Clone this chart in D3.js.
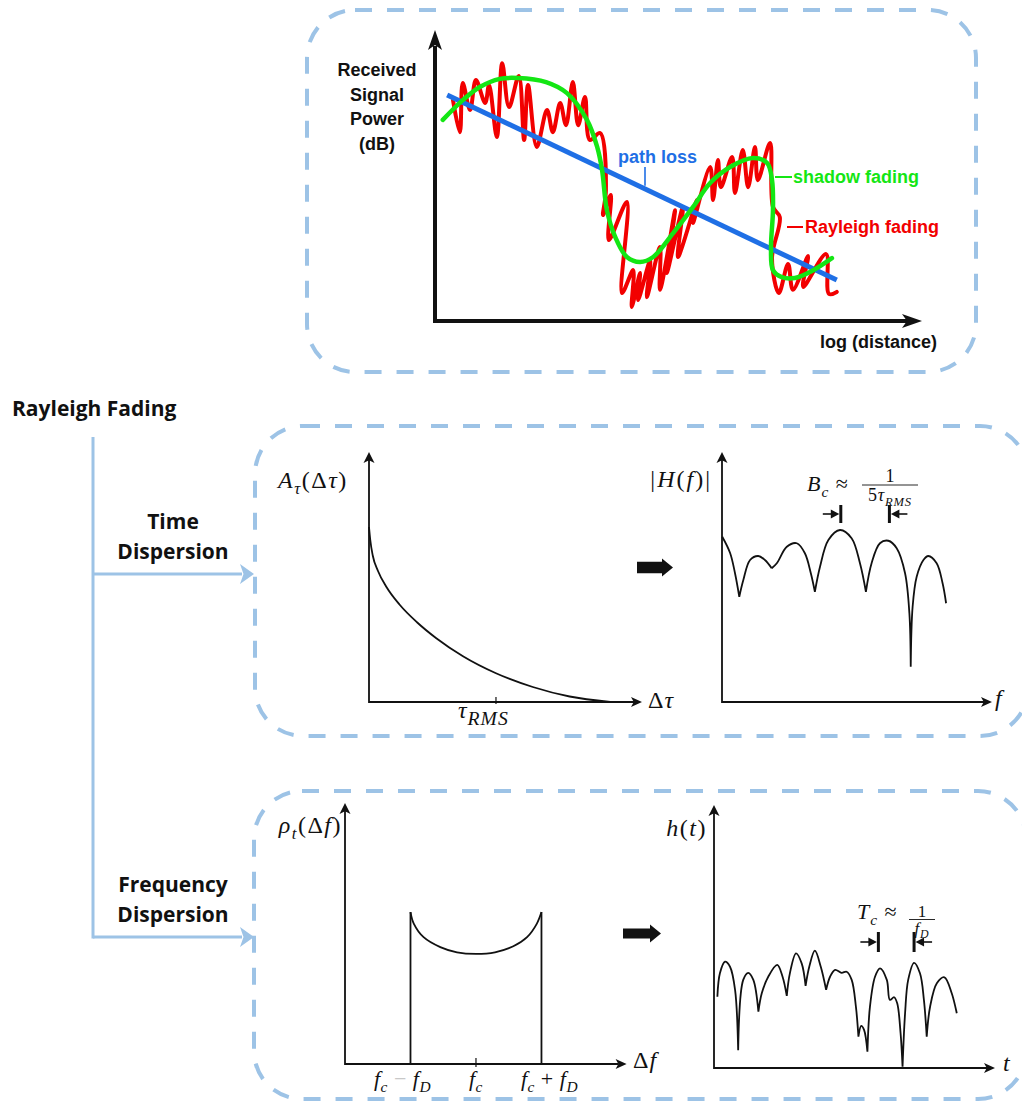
<!DOCTYPE html>
<html>
<head>
<meta charset="utf-8">
<script src="https://cdn.jsdelivr.net/npm/d3@7"></script>
<style>
  body { margin: 0; background: #fff; }
  svg { display: block; }
</style>
</head>
<body>
<svg id="fig" width="1022" height="1101"></svg>
<script>
// ------------------------------------------------------------------
// Data
// ------------------------------------------------------------------

// Large-scale picture: received power (arbitrary dB scale 0..100) vs log distance (0..100)
const pathLoss = [[2.5, 77.7], [82.5, 14.1]];

const shadowFading = [
  [1.6, 69.1], [5.7, 75.9], [9.2, 80.4], [13.3, 83.2], [17.0, 83.5], [22.8, 82.1],
  [27.1, 78.3], [31.2, 69.1], [33.3, 59.8], [34.3, 51.9], [35.3, 38.1], [37.0, 28.9],
  [39.4, 22.0], [42.1, 20.3], [44.8, 22.0], [48.9, 30.2], [53.0, 39.2], [56.5, 47.4],
  [60.6, 52.9], [65.3, 56.0], [68.2, 54.3], [69.2, 48.4], [69.4, 38.1], [69.0, 25.4],
  [69.4, 17.5], [71.2, 15.1], [73.9, 14.8], [77.4, 17.2], [81.5, 21.6]
];

const rayleighFading = [
  [3.7, 75.9], [5.1, 64.9], [5.7, 81.8], [7.2, 72.5], [8.4, 82.8], [10.3, 74.9],
  [11.1, 81.1], [12.7, 63.2], [13.8, 88.6], [15.2, 73.5], [17.2, 84.2], [18.3, 62.2],
  [19.1, 81.1], [20.9, 59.8], [23.0, 72.5], [24.2, 64.9], [25.7, 74.9], [26.9, 67.3],
  [28.3, 82.1], [29.4, 67.3], [30.8, 77.0], [31.8, 62.2], [33.9, 64.6], [35.1, 45.0],
  [34.5, 36.4], [36.1, 43.3], [35.7, 27.8], [39.4, 40.9], [38.4, 9.6], [40.7, 17.5],
  [40.4, 4.8], [42.1, 16.5], [41.7, 7.2], [44.2, 21.0], [43.5, 8.2], [46.2, 25.4],
  [46.2, 10.7], [49.3, 38.1], [47.6, 16.5], [50.9, 39.2], [49.9, 22.0], [53.8, 41.6],
  [53.0, 33.7], [56.5, 52.9], [57.1, 41.6], [58.1, 55.3], [58.7, 46.0], [61.0, 56.4],
  [61.6, 44.0], [63.2, 58.8], [64.3, 46.0], [65.7, 59.8], [66.3, 48.4], [68.8, 61.2],
  [69.4, 39.2], [70.8, 35.7], [69.2, 21.6], [70.6, 9.6], [72.5, 19.6], [73.5, 10.7],
  [76.6, 22.3], [75.6, 11.7], [80.3, 23.0], [80.9, 9.3], [82.5, 10.0]
];

// Power delay profile A_tau(delta tau), delay in units of tau_RMS
const delayProfile = [
  [0, 0.70], [0.01, 0.648], [0.03, 0.585], [0.07, 0.525], [0.14, 0.458], [0.24, 0.39],
  [0.38, 0.318], [0.53, 0.255], [0.74, 0.183], [1.0, 0.115], [1.29, 0.060],
  [1.58, 0.022], [1.90, 0.0]
];
const delayTicks = [1];

// |H(f)|: one arch between consecutive spectral nulls
const freqResponseArches = [
  [[0.01, 6.61], [0.30, 5.96], [0.48, 5.16], [0.64, 4.21]],
  [[0.64, 4.21], [0.79, 4.88], [1.04, 5.68], [1.34, 5.84], [1.59, 5.68], [1.84, 5.35]],
  [[1.84, 5.35], [2.03, 5.55], [2.40, 6.21], [2.77, 6.35], [3.07, 5.95], [3.29, 5.15], [3.44, 4.41]],
  [[3.44, 4.41], [3.63, 5.41], [3.94, 6.48], [4.37, 6.88], [4.80, 6.55], [5.11, 5.55], [5.33, 4.41]],
  [[5.33, 4.41], [5.54, 5.55], [5.85, 6.35], [6.16, 6.45], [6.47, 6.15], [6.78, 5.15], [6.94, 3.55], [6.99, 1.41]],
  [[6.99, 1.41], [7.06, 3.81], [7.21, 5.01], [7.46, 5.68], [7.64, 5.84], [7.95, 5.55], [8.17, 4.75], [8.30, 3.95]]
];
const coherenceBandwidthMarks = [4.4, 6.2];

// Doppler spectrum rho_t(delta f), frequency offset in units of f_D around f_c
const dopplerSpectrum = [
  [-1, 0.582], [-0.95, 0.538], [-0.80, 0.486], [-0.545, 0.448], [-0.29, 0.428], [0, 0.422],
  [0.29, 0.428], [0.57, 0.451], [0.78, 0.486], [0.93, 0.538], [1, 0.582]
];
const dopplerEdges = [-1, 1];
const dopplerTicks = [0];
const dopplerTickLabels = [
  { v: -1, parts: [['f', 'i'], ['c', 'is'], [' \u2212 ', 'g'], ['f', 'i'], ['D', 'is']] },
  { v: 0,  parts: [['f', 'i'], ['c', 'is']] },
  { v: 1,  parts: [['f', 'i'], ['c', 'is'], [' + '], ['f', 'i'], ['D', 'is']] }
];

// |h(t)|: one arch between consecutive deep fades
const impulseArches = [
  [[0.12, 2.71], [0.21, 3.60], [0.39, 4.04], [0.57, 3.85], [0.75, 2.97], [0.86, 0.68]],
  [[0.86, 0.68], [1.04, 3.35], [1.22, 3.62], [1.40, 3.35], [1.58, 2.14]],
  [[1.58, 2.14], [1.70, 2.84], [1.93, 3.47], [2.25, 3.92], [2.44, 3.47], [2.59, 2.74]],
  [[2.59, 2.74], [2.70, 3.60], [2.92, 4.36], [3.12, 3.98], [3.26, 3.12]],
  [[3.26, 3.12], [3.39, 3.85], [3.59, 4.46], [3.80, 3.85], [3.99, 2.97]],
  [[3.99, 2.97], [4.13, 3.47], [4.31, 3.73], [4.54, 3.62], [4.72, 3.66], [4.90, 3.35], [5.05, 2.33], [5.14, 1.19]],
  [[5.14, 1.19], [5.24, 1.60], [5.34, 1.45], [5.46, 0.62]],
  [[5.46, 0.62], [5.55, 2.33], [5.73, 3.47], [5.91, 3.79], [6.15, 3.35], [6.26, 2.59], [6.41, 2.69], [6.52, 2.46], [6.64, 1.32], [6.71, 0.05]],
  [[6.71, 0.05], [6.80, 2.08], [6.91, 3.35], [7.12, 4.00], [7.33, 3.60], [7.47, 2.59], [7.57, 1.19]],
  [[7.57, 1.19], [7.69, 2.33], [7.93, 3.22], [8.20, 3.45], [8.46, 2.84], [8.64, 2.08]]
];
const coherenceTimeMarks = [5.85, 7.12];

const treeTitle = 'Rayleigh Fading';
const branchLabels = [['Time', 'Dispersion'], ['Frequency', 'Dispersion']];
const receivedLabel = ['Received', 'Signal', 'Power', '(dB)'];

// ------------------------------------------------------------------
// Styles and helpers
// ------------------------------------------------------------------
const SERIF = "'Liberation Serif', 'Times New Roman', serif";
const SANS = "'Liberation Sans', Arial, sans-serif";
const UI = "'Open Sans', sans-serif";
const FRAME = '#9DC3E6';
const RED = '#f20000', GREEN = '#14e614', BLUE = '#1f6fe5';
const INK = '#111';

const svg = d3.select('#fig');

function arrowHead(g, x, y, dir, len, half, fill) {
  const pts = dir === 'up'
    ? [[x, y], [x - half, y + len], [x, y + len * 0.75], [x + half, y + len]]
    : [[x, y], [x - len, y - half], [x - len * 0.75, y], [x - len, y + half]];
  g.append('polygon').attr('points', pts.map(p => p.join(',')).join(' ')).attr('fill', fill);
}

// Serif math label built from tspans: style flags i = italic, s = subscript, g = grey
function math(parent, x, y, parts, size, anchor = 'start', ls = 1) {
  const t = parent.append('text')
    .attr('x', x).attr('y', y)
    .attr('font-family', SERIF).attr('font-size', size)
    .attr('text-anchor', anchor).attr('letter-spacing', ls)
    .attr('fill', INK).attr('xml:space', 'preserve');
  let shift = 0;
  parts.forEach(([s, st = '', scale = 0.7, drop]) => {
    const sub = st.includes('s') || scale !== 0.7;
    const target = sub ? (drop !== undefined ? drop : Math.round(size * 0.25)) : 0;
    const ts = t.append('tspan').text(s).attr('dy', target - shift);
    shift = target;
    if (st.includes('i')) ts.attr('font-style', 'italic');
    if (sub) ts.attr('font-size', size * scale);
    if (st.includes('g')) ts.attr('fill', '#c8c8c8');
  });
  return t;
}

function fraction(parent, cx, yBar, halfW, num, den, size) {
  math(parent, cx, yBar - 3, num, size, 'middle', 0);
  parent.append('line').attr('x1', cx - halfW).attr('x2', cx + halfW)
    .attr('y1', yBar).attr('y2', yBar).attr('stroke', INK).attr('stroke-width', 0.9);
  math(parent, cx, yBar + size * 0.88, den, size, 'middle', 0.8);
}

function plotAxes(g, x, y) {
  const [x0, x1] = x.range(), [y0, y1] = y.range();
  g.append('path').attr('d', `M${x0},${y1 + 8}V${y0}H${x1 - 8}`)
    .attr('fill', 'none').attr('stroke', INK).attr('stroke-width', 1.8);
  arrowHead(g, x0, y1, 'up', 11, 5.5, INK);
  arrowHead(g, x1, y0, 'right', 11, 5, INK);
}

function blockArrow(g, x0, x1, cy, bodyHalf, headHalf, headLen) {
  const hx = x1 - headLen;
  const pts = [[x0, cy - bodyHalf], [hx, cy - bodyHalf], [hx, cy - headHalf], [x1, cy],
               [hx, cy + headHalf], [hx, cy + bodyHalf], [x0, cy + bodyHalf]];
  g.append('polygon').attr('points', pts.map(p => p.join(',')).join(' ')).attr('fill', INK);
}

// |<-  ->| markers: bars at xa and xb with arrows pointing inward from outside
function spanMarks(g, xa, xb, cy, half) {
  [[xa, -1], [xb, 1]].forEach(([x, side]) => {
    g.append('line').attr('x1', x).attr('x2', x).attr('y1', cy - half).attr('y2', cy + half)
      .attr('stroke', INK).attr('stroke-width', 3);
    g.append('line').attr('x1', x + side * 18).attr('x2', x + side * 8).attr('y1', cy).attr('y2', cy)
      .attr('stroke', INK).attr('stroke-width', 1.6);
    const tip = x + side * 1.5, back = x + side * 10;
    g.append('polygon')
      .attr('points', [[tip, cy], [back, cy - 4.5], [back, cy + 4.5]].map(p => p.join(',')).join(' '))
      .attr('fill', INK);
  });
}

// ------------------------------------------------------------------
// Dashed frames
// ------------------------------------------------------------------
const frames = [
  { x: 307, y: 10, w: 669, h: 362 },
  { x: 255, y: 426, w: 773, h: 310 },
  { x: 254, y: 791, w: 772, h: 308 }
];
svg.selectAll('rect.frame').data(frames).join('rect')
  .attr('class', 'frame')
  .attr('x', d => d.x).attr('y', d => d.y).attr('width', d => d.w).attr('height', d => d.h)
  .attr('rx', 48).attr('ry', 48)
  .attr('fill', 'none').attr('stroke', FRAME).attr('stroke-width', 4)
  .attr('stroke-dasharray', '17 15');

// ------------------------------------------------------------------
// Tree on the left
// ------------------------------------------------------------------
const tree = svg.append('g');
tree.append('text').attr('x', 12).attr('y', 416).text(treeTitle)
  .attr('font-family', UI).attr('font-weight', 700).attr('font-size', 21).attr('fill', INK);
tree.append('line').attr('x1', 93).attr('x2', 93).attr('y1', 437).attr('y2', 938.5)
  .attr('stroke', FRAME).attr('stroke-width', 3);
const branchY = [574, 937];
branchLabels.forEach((lines, i) => {
  const y = branchY[i];
  tree.append('line').attr('x1', 93).attr('x2', 242).attr('y1', y).attr('y2', y)
    .attr('stroke', FRAME).attr('stroke-width', 3);
  arrowHead(tree, 254, y, 'right', 14, 10, FRAME);
  lines.forEach((s, j) => {
    tree.append('text').attr('x', 173).attr('y', y - 45 + j * 30).text(s)
      .attr('text-anchor', 'middle').attr('font-family', UI).attr('font-weight', 700)
      .attr('font-size', 21).attr('fill', INK);
  });
});

// ------------------------------------------------------------------
// Top: path loss, shadow fading, Rayleigh fading
// ------------------------------------------------------------------
const upper = svg.append('g');
const xTop = d3.scaleLinear().domain([0, 100]).range([435, 922]);
const yTop = d3.scaleLinear().domain([0, 100]).range([321, 30]);

upper.append('path')
  .attr('d', `M${xTop(0)},${yTop(0) + 2}V${yTop(100) + 16}M${xTop(0) - 2},${yTop(0)}H${xTop(100) - 15}`)
  .attr('stroke', INK).attr('stroke-width', 4).attr('fill', 'none');
arrowHead(upper, xTop(0), yTop(100), 'up', 20, 7, INK);
arrowHead(upper, xTop(100), yTop(0), 'right', 20, 7, INK);

receivedLabel.forEach((s, i) => {
  upper.append('text').attr('x', 377).attr('y', 76 + i * 24.5).text(s)
    .attr('text-anchor', 'middle').attr('font-family', SANS).attr('font-weight', 700)
    .attr('font-size', 18).attr('fill', INK);
});
upper.append('text').attr('x', 937).attr('y', 348).text('log (distance)')
  .attr('text-anchor', 'end').attr('font-family', SANS).attr('font-weight', 700)
  .attr('font-size', 18).attr('fill', INK);

const lineTop = d3.line().x(d => xTop(d[0])).y(d => yTop(d[1])).curve(d3.curveCatmullRom.alpha(0.5));

upper.append('path').attr('d', lineTop(rayleighFading))
  .attr('fill', 'none').attr('stroke', RED).attr('stroke-width', 4)
  .attr('stroke-linejoin', 'round').attr('stroke-linecap', 'round');
upper.append('path').attr('d', d3.line().x(d => xTop(d[0])).y(d => yTop(d[1]))(pathLoss))
  .attr('fill', 'none').attr('stroke', BLUE).attr('stroke-width', 5);
upper.append('path').attr('d', lineTop(shadowFading))
  .attr('fill', 'none').attr('stroke', GREEN).attr('stroke-width', 4.5)
  .attr('stroke-linejoin', 'round').attr('stroke-linecap', 'round');

// labels with short leader lines
const plAt = d3.scaleLinear().domain([pathLoss[0][0], pathLoss[1][0]]).range([pathLoss[0][1], pathLoss[1][1]]);
const tickX = xTop.invert(645);
upper.append('line').attr('x1', 645).attr('x2', 645).attr('y1', 167).attr('y2', yTop(plAt(tickX)) - 3)
  .attr('stroke', BLUE).attr('stroke-width', 1.6);
upper.append('text').attr('x', 618).attr('y', 163).text('path loss')
  .attr('font-family', SANS).attr('font-weight', 700).attr('font-size', 18).attr('fill', BLUE);

upper.append('line').attr('x1', 775).attr('x2', 792).attr('y1', 177).attr('y2', 177)
  .attr('stroke', GREEN).attr('stroke-width', 2);
upper.append('text').attr('x', 793).attr('y', 183).text('shadow fading')
  .attr('font-family', SANS).attr('font-weight', 700).attr('font-size', 18).attr('fill', GREEN);

upper.append('line').attr('x1', 787).attr('x2', 803).attr('y1', 227).attr('y2', 227)
  .attr('stroke', RED).attr('stroke-width', 2);
upper.append('text').attr('x', 805).attr('y', 233).text('Rayleigh fading')
  .attr('font-family', SANS).attr('font-weight', 700).attr('font-size', 18).attr('fill', RED);

// ------------------------------------------------------------------
// Time dispersion: delay profile -> frequency response
// ------------------------------------------------------------------
const mid = svg.append('g');
const xA = d3.scaleLinear().domain([0, 2.15]).range([369, 642]);
const yA = d3.scaleLinear().domain([0, 1]).range([702, 452]);
plotAxes(mid, xA, yA);
mid.append('path')
  .attr('d', d3.line().x(d => xA(d[0])).y(d => yA(d[1])).curve(d3.curveMonotoneX)(delayProfile))
  .attr('fill', 'none').attr('stroke', INK).attr('stroke-width', 1.8);
delayTicks.forEach(v => {
  mid.append('line').attr('x1', xA(v)).attr('x2', xA(v)).attr('y1', yA(0) - 5).attr('y2', yA(0) + 2)
    .attr('stroke', INK).attr('stroke-width', 1.2);
  math(mid, xA(v) - 38, 718, [['\u03c4', 'i'], ['RMS', 'i', 0.82, 7]], 24, 'start', 1);
});
math(mid, 278, 488, [['A', 'i'], ['\u03c4', 'is'], ['('], ['\u0394'], ['\u03c4', 'i'], [')']], 24, 'start', 1.5);
math(mid, 648, 708, [['\u0394'], ['\u03c4', 'i']], 24, 'start', 1);

blockArrow(mid, 637, 673, 567.5, 5.8, 9, 11);

const xH = d3.scaleLinear().domain([0, 10]).range([722, 992]);
const yH = d3.scaleLinear().domain([0, 10]).range([702, 452]);
plotAxes(mid, xH, yH);
const lineH = d3.line().x(d => xH(d[0])).y(d => yH(d[1])).curve(d3.curveCatmullRom.alpha(0.5));
mid.append('path').attr('d', freqResponseArches.map(a => lineH(a)).join(''))
  .attr('fill', 'none').attr('stroke', INK).attr('stroke-width', 1.8).attr('stroke-linejoin', 'round');
math(mid, 712, 487, [['|'], ['H', 'i'], ['('], ['f', 'i'], [')'], ['|']], 24, 'end', 2);
math(mid, 995, 706, [['f', 'i']], 24, 'start', 0);

spanMarks(mid, xH(coherenceBandwidthMarks[0]), xH(coherenceBandwidthMarks[1]), 514, 9);
math(mid, 807, 491, [['B', 'i'], ['c', 'is'], [' \u2248 ']], 22, 'start', 1);
fraction(mid, 890, 485, 28, [['1']], [['5'], ['\u03c4', 'i'], ['RMS', 'is']], 18);

// ------------------------------------------------------------------
// Frequency dispersion: Doppler spectrum -> time response
// ------------------------------------------------------------------
const bot = svg.append('g');
const xD = d3.scaleLinear().domain([-2, 2.3]).range([345, 626.6]);
const yD = d3.scaleLinear().domain([0, 1]).range([1064, 803]);
plotAxes(bot, xD, yD);
bot.append('path')
  .attr('d', d3.line().x(d => xD(d[0])).y(d => yD(d[1])).curve(d3.curveCatmullRom.alpha(0.5))(dopplerSpectrum))
  .attr('fill', 'none').attr('stroke', INK).attr('stroke-width', 1.8);
const edgeY = dopplerSpectrum[0][1];
dopplerEdges.forEach(v => {
  bot.append('line').attr('x1', xD(v)).attr('x2', xD(v)).attr('y1', yD(0)).attr('y2', yD(edgeY))
    .attr('stroke', INK).attr('stroke-width', 1.8);
});
dopplerTicks.forEach(v => {
  bot.append('line').attr('x1', xD(v)).attr('x2', xD(v)).attr('y1', yD(0) - 6).attr('y2', yD(0) + 3)
    .attr('stroke', INK).attr('stroke-width', 1.2);
});
dopplerTickLabels.forEach(d => {
  math(bot, xD(d.v) + d.v * 8, 1086, d.parts, 22, 'middle', 0.5);
});
math(bot, 342, 833, [['\u03c1', 'i'], ['t', 'is'], ['('], ['\u0394'], ['f', 'i'], [')']], 24, 'end', 1.5);
math(bot, 633, 1068, [['\u0394'], ['f', 'i']], 24, 'start', 1);

blockArrow(bot, 623, 661, 933.5, 5, 9, 11);

const xT = d3.scaleLinear().domain([0, 10]).range([714, 995]);
const yT = d3.scaleLinear().domain([0, 10]).range([1068, 805]);
plotAxes(bot, xT, yT);
const lineT = d3.line().x(d => xT(d[0])).y(d => yT(d[1])).curve(d3.curveCatmullRom.alpha(0.5));
bot.append('path').attr('d', impulseArches.map(a => lineT(a)).join(''))
  .attr('fill', 'none').attr('stroke', INK).attr('stroke-width', 1.8).attr('stroke-linejoin', 'round');
math(bot, 707, 836, [['h', 'i'], ['('], ['t', 'i'], [')']], 24, 'end', 1.5);
math(bot, 1003, 1071, [['t', 'i']], 24, 'start', 0);

spanMarks(bot, xT(coherenceTimeMarks[0]), xT(coherenceTimeMarks[1]), 942, 10);
math(bot, 857, 919, [['T', 'i'], ['c', 'is'], [' \u2248 ']], 22, 'start', 1);
fraction(bot, 922, 919.5, 13, [['1']], [['f', 'i'], ['D', 'is']], 17);
</script>
</body>
</html>
